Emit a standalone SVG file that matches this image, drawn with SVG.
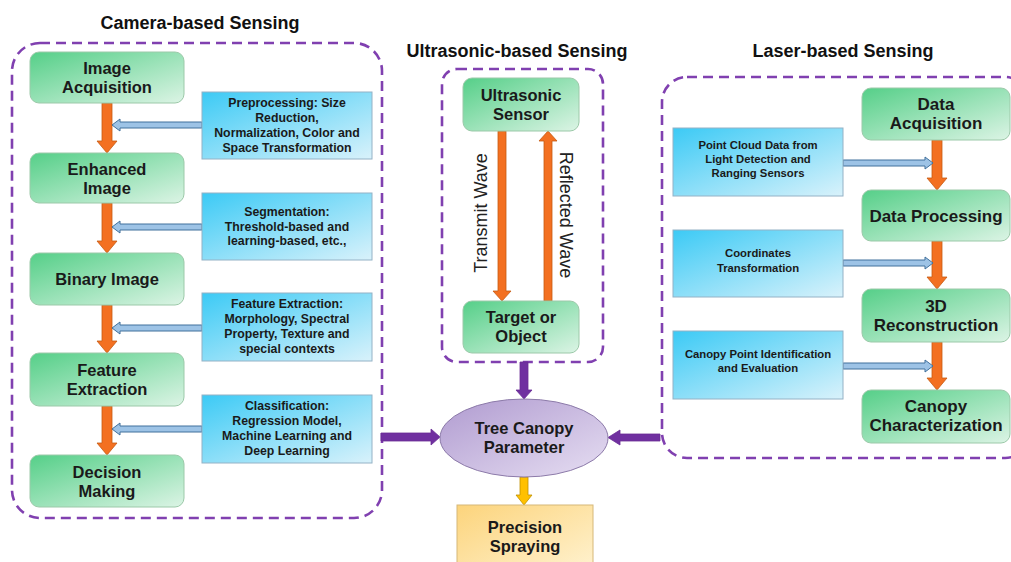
<svg xmlns="http://www.w3.org/2000/svg" width="1011" height="562" viewBox="0 0 1011 562">
<defs>
<linearGradient id="gGreen" x1="0" y1="0" x2="1" y2="1">
<stop offset="0" stop-color="#55cf88"/><stop offset="1" stop-color="#dcf4e5"/>
</linearGradient>
<linearGradient id="gBlue" x1="0" y1="0" x2="1" y2="1">
<stop offset="0" stop-color="#3ccaf5"/><stop offset="1" stop-color="#d9f2fb"/>
</linearGradient>
<linearGradient id="gPurple" x1="0" y1="0" x2="1" y2="1">
<stop offset="0" stop-color="#b09bd0"/><stop offset="1" stop-color="#e6def2"/>
</linearGradient>
<linearGradient id="gYellow" x1="0" y1="0" x2="1" y2="1">
<stop offset="0" stop-color="#fcd47c"/><stop offset="1" stop-color="#fff3d2"/>
</linearGradient>
<style>
.title{font-family:"Liberation Sans",Arial,sans-serif;font-weight:bold;font-size:18px;fill:#111;text-anchor:middle}
.node{fill:url(#gGreen);stroke:#9cc9a9;stroke-width:1}
.nt{font-family:"Liberation Sans",Arial,sans-serif;font-weight:bold;font-size:16.5px;fill:#1a1a1a;text-anchor:middle}
.ntr{font-family:"Liberation Sans",Arial,sans-serif;font-weight:bold;font-size:17px;fill:#1a1a1a;text-anchor:middle}
.info{fill:url(#gBlue);stroke:#94b2c6;stroke-width:1}
.it{font-family:"Liberation Sans",Arial,sans-serif;font-weight:bold;font-size:12.3px;fill:#1a1a1a;text-anchor:middle}
.itr{font-family:"Liberation Sans",Arial,sans-serif;font-weight:bold;font-size:11.3px;fill:#1a1a1a;text-anchor:middle}
.dash{fill:none;stroke:#8040b0;stroke-width:2.6;stroke-dasharray:10 6}
.orange{fill:#f37021;stroke:#c55a11;stroke-width:0.8}
.blue{fill:#9dc3e6;stroke:#41719c;stroke-width:1}
.purple{fill:#7030a0;stroke:#6a2c96;stroke-width:0.8}
.yellow{fill:#ffc000;stroke:#bf9000;stroke-width:0.8}
.wave{font-family:"Liberation Sans",Arial,sans-serif;font-size:18px;fill:#222;text-anchor:middle;dominant-baseline:central}
</style>
</defs>
<rect width="1011" height="562" fill="#ffffff"/>

<g id="titles">
<text class="title" x="200" y="29">Camera-based Sensing</text>
<text class="title" x="517" y="57">Ultrasonic-based Sensing</text>
<text class="title" x="843" y="57">Laser-based Sensing</text>
</g>

<g id="groups">
<rect class="dash" x="12" y="43" width="370" height="475" rx="28"/>
<rect class="dash" x="442" y="69" width="161" height="293" rx="15"/>
<rect class="dash" x="662" y="77" width="368" height="381" rx="25"/>
</g>

<g id="connectors">
<path class="orange" d="M102 103H112V141H117L107 153L97 141H102Z"/>
<path class="orange" d="M102 203H112V241H117L107 253L97 241H102Z"/>
<path class="orange" d="M102 305H112V341H117L107 353L97 341H102Z"/>
<path class="orange" d="M102 406H112V443H117L107 455L97 443H102Z"/>
<path class="blue" d="M202 122H120V119L112 125L120 131V128H202Z"/>
<path class="blue" d="M202 224H120V221L112 227L120 233V230H202Z"/>
<path class="blue" d="M202 325H120V322L112 328L120 334V331H202Z"/>
<path class="blue" d="M202 426H120V423L112 429L120 435V432H202Z"/>
<path class="orange" d="M498 131H506V291H511L502 301L493 291H498Z"/>
<path class="orange" d="M544 301H552V141H557L548 131L539 141H544Z"/>
<path class="purple" d="M520 362H528V390H532L524 399L516 390H520Z"/>
<path class="purple" d="M381 433H431V429L440 437L431 445V441H381Z"/>
<path class="purple" d="M660 434H620V430L608 437.5L620 445V441H660Z"/>
<path class="yellow" d="M520 477H528V495H532L524 505L516 495H520Z"/>
<path class="orange" d="M932 140H942V178H947L937 190L927 178H932Z"/>
<path class="orange" d="M932 241H942V277H947L937 289L927 277H932Z"/>
<path class="orange" d="M932 342H942V378H947L937 390L927 378H932Z"/>
<path class="blue" d="M843 160H925V157L933 163L925 169V166H843Z"/>
<path class="blue" d="M843 260H925V257L933 263L925 269V266H843Z"/>
<path class="blue" d="M843 363H925V360L933 366L925 372V369H843Z"/>
<text class="wave" transform="translate(481,213) rotate(-90)">Transmit Wave</text>
<text class="wave" transform="translate(566,215) rotate(90)">Reflected Wave</text>
</g>

<g id="n-image-acquisition"><rect class="node" x="30" y="52" width="154" height="51" rx="9"/><text class="nt" x="107" y="74">Image</text><text class="nt" x="107" y="93">Acquisition</text></g>
<g id="n-enhanced-image"><rect class="node" x="30" y="153" width="154" height="50" rx="9"/><text class="nt" x="107" y="175">Enhanced</text><text class="nt" x="107" y="194">Image</text></g>
<g id="n-binary-image"><rect class="node" x="30" y="253" width="154" height="52" rx="9"/><text class="nt" x="107" y="285">Binary Image</text></g>
<g id="n-feature-extraction"><rect class="node" x="30" y="353" width="154" height="53" rx="9"/><text class="nt" x="107" y="376">Feature</text><text class="nt" x="107" y="395">Extraction</text></g>
<g id="n-decision-making"><rect class="node" x="30" y="455" width="154" height="52" rx="9"/><text class="nt" x="107" y="478">Decision</text><text class="nt" x="107" y="497">Making</text></g>

<g id="i-preprocessing"><rect class="info" x="202" y="92" width="170" height="67"/><text class="it" x="287" y="107">Preprocessing: Size</text><text class="it" x="287" y="122">Reduction,</text><text class="it" x="287" y="137">Normalization, Color and</text><text class="it" x="287" y="152">Space Transformation</text></g>
<g id="i-segmentation"><rect class="info" x="202" y="193" width="170" height="67"/><text class="it" x="287" y="216">Segmentation:</text><text class="it" x="287" y="230.5">Threshold-based and</text><text class="it" x="287" y="245">learning-based, etc.,</text></g>
<g id="i-feature"><rect class="info" x="202" y="293" width="170" height="68"/><text class="it" x="287" y="308">Feature Extraction:</text><text class="it" x="287" y="323">Morphology, Spectral</text><text class="it" x="287" y="338">Property, Texture and</text><text class="it" x="287" y="353">special contexts</text></g>
<g id="i-classification"><rect class="info" x="202" y="395" width="170" height="68"/><text class="it" x="287" y="410">Classification:</text><text class="it" x="287" y="425">Regression Model,</text><text class="it" x="287" y="440">Machine Learning and</text><text class="it" x="287" y="455">Deep Learning</text></g>

<g id="n-ultrasonic-sensor"><rect class="node" x="463" y="78" width="116" height="53" rx="9"/><text class="nt" x="521" y="101">Ultrasonic</text><text class="nt" x="521" y="120">Sensor</text></g>
<g id="n-target"><rect class="node" x="463" y="301" width="116" height="52" rx="9"/><text class="nt" x="521" y="323">Target or</text><text class="nt" x="521" y="342">Object</text></g>

<g id="n-tree-canopy"><ellipse cx="524" cy="438" rx="84" ry="39" fill="url(#gPurple)" stroke="#8c7aa9" stroke-width="1"/><text class="nt" x="524" y="434">Tree Canopy</text><text class="nt" x="524" y="453">Parameter</text></g>
<g id="n-precision-spraying"><rect x="457" y="505" width="136" height="70" fill="url(#gYellow)" stroke="#d6b878" stroke-width="1"/><text class="nt" x="525" y="533">Precision</text><text class="nt" x="525" y="552">Spraying</text></g>

<g id="n-data-acquisition"><rect class="node" x="862" y="88" width="148" height="52" rx="9"/><text class="ntr" x="936" y="110">Data</text><text class="ntr" x="936" y="129">Acquisition</text></g>
<g id="n-data-processing"><rect class="node" x="862" y="190" width="148" height="51" rx="9"/><text class="ntr" x="936" y="221.5">Data Processing</text></g>
<g id="n-3d-reconstruction"><rect class="node" x="862" y="289" width="148" height="53" rx="9"/><text class="ntr" x="936" y="312">3D</text><text class="ntr" x="936" y="331">Reconstruction</text></g>
<g id="n-canopy-characterization"><rect class="node" x="862" y="390" width="148" height="53" rx="9"/><text class="ntr" x="936" y="412">Canopy</text><text class="ntr" x="936" y="431">Characterization</text></g>

<g id="i-point-cloud"><rect class="info" x="673" y="128" width="170" height="68"/><text class="itr" x="758" y="149">Point Cloud Data from</text><text class="itr" x="758" y="163">Light Detection and</text><text class="itr" x="758" y="177">Ranging Sensors</text></g>
<g id="i-coordinates"><rect class="info" x="673" y="230" width="170" height="67"/><text class="itr" x="758" y="257">Coordinates</text><text class="itr" x="758" y="272">Transformation</text></g>
<g id="i-canopy-point"><rect class="info" x="673" y="331" width="170" height="68"/><text class="itr" x="758" y="358">Canopy Point Identification</text><text class="itr" x="758" y="372">and Evaluation</text></g>
</svg>
